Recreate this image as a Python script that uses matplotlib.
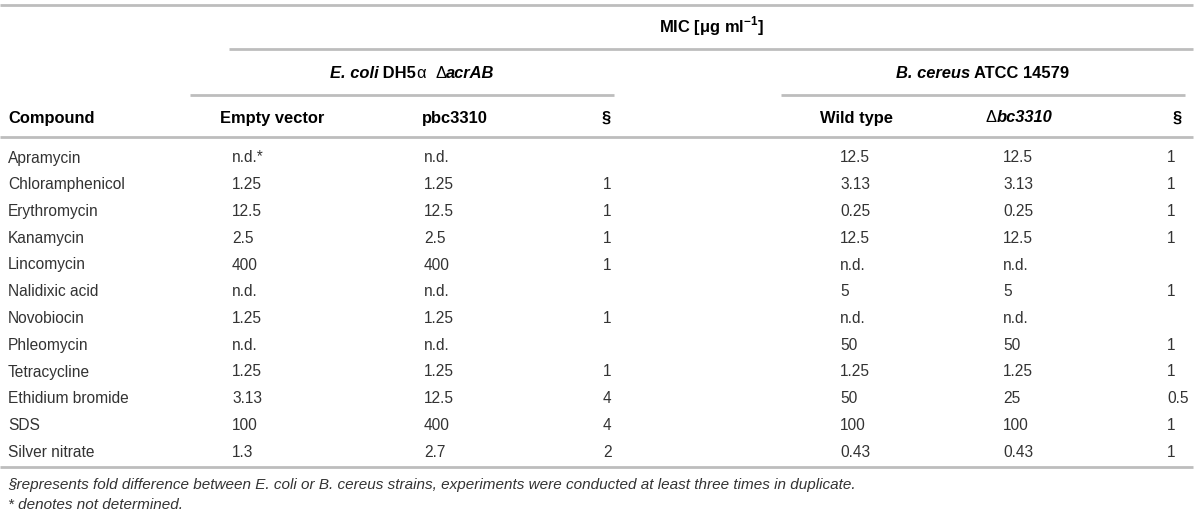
import matplotlib
matplotlib.use("Agg")
import matplotlib.pyplot as plt

# ---- data ----
compounds = ["Apramycin", "Chloramphenicol", "Erythromycin", "Kanamycin", "Lincomycin",
             "Nalidixic acid", "Novobiocin", "Phleomycin", "Tetracycline",
             "Ethidium bromide", "SDS", "Silver nitrate"]
ecoli_empty = ["n.d.*", "1.25", "12.5", "2.5", "400", "n.d.", "1.25", "n.d.", "1.25", "3.13", "100", "1.3"]
ecoli_pbc = ["n.d.", "1.25", "12.5", "2.5", "400", "n.d.", "1.25", "n.d.", "1.25", "12.5", "400", "2.7"]
ecoli_fold = ["", "1", "1", "1", "1", "", "1", "", "1", "4", "4", "2"]
bc_wt = ["12.5", "3.13", "0.25", "12.5", "n.d.", "5", "n.d.", "50", "1.25", "50", "100", "0.43"]
bc_del = ["12.5", "3.13", "0.25", "12.5", "n.d.", "5", "n.d.", "50", "1.25", "25", "100", "0.43"]
bc_fold = ["1", "1", "1", "1", "", "1", "", "1", "1", "0.5", "1", "1"]
footnotes = ["§represents fold difference between E. coli or B. cereus strains, experiments were conducted at least three times in duplicate.",
             "* denotes not determined."]

plt.rcParams['font.family'] = ['Liberation Sans', 'DejaVu Sans']
plt.rcParams['mathtext.fontset'] = 'custom'
plt.rcParams['mathtext.rm'] = 'Liberation Sans:bold'
plt.rcParams['mathtext.bf'] = 'Liberation Sans:bold'

W, H = 1200, 520
fig = plt.figure(figsize=(W / 100, H / 100), dpi=100)
ax = fig.add_axes([0, 0, 1, 1])
ax.set_xlim(0, W)
ax.set_ylim(H, 0)
ax.axis('off')

FS = 11.2
HFS = 11.9
BODY = '#333333'
RULE = '#bdbdbd'
renderer = fig.canvas.get_renderer()


def runs(xc, y, parts, size=HFS):
    """Draw consecutive text runs centred at xc. parts: (text, style, weight)."""
    objs = []
    for txt, style, weight in parts:
        t = ax.text(0, y, txt, fontsize=size, fontweight=weight, color='black',
                    fontstyle=style, va='center', ha='left')
        objs.append(t)
    widths = []
    inv = ax.transData.inverted()
    for t in objs:
        bb = t.get_window_extent(renderer)
        (x0, _), (x1, _) = inv.transform([(bb.x0, 0), (bb.x1, 0)])
        widths.append(x1 - x0)
    total = sum(widths)
    x = xc - total / 2
    for t, w in zip(objs, widths):
        t.set_x(x)
        x += w


# rules
ax.hlines(5, 0, 1193, color=RULE, lw=2)
ax.hlines(49, 229, 1193, color=RULE, lw=2)
ax.hlines(95, 190, 614, color=RULE, lw=2)
ax.hlines(95, 781, 1185, color=RULE, lw=2)
ax.hlines(137, 0, 1193, color=RULE, lw=2)
ax.hlines(467, 0, 1193, color=RULE, lw=2)

# group headers (centred on their rules)
ax.text(711, 26, r"MIC [μg ml$^{-1}$]", fontsize=HFS, fontweight='bold', ha='center', va='center')
runs(412, 73, [("E. coli", 'italic', 'bold'), (" DH5", 'normal', 'bold'), ("α", 'normal', 'normal'),
               ("  ", 'normal', 'bold'), ("Δ", 'normal', 'normal'), ("acrAB", 'italic', 'bold')])
runs(983, 73, [("B. cereus", 'italic', 'bold'), (" ATCC 14579", 'normal', 'bold')])

# column headers
hy = 118
ax.text(8, hy, "Compound", fontsize=HFS, fontweight='bold', ha='left', va='center')
ax.text(272, hy, "Empty vector", fontsize=HFS, fontweight='bold', ha='center', va='center')
ax.text(455, hy, "pbc3310", fontsize=HFS, fontweight='bold', ha='center', va='center')
ax.text(606, hy, "§", fontsize=HFS, fontweight='bold', ha='center', va='center')
ax.text(856, hy, "Wild type", fontsize=HFS, fontweight='bold', ha='center', va='center')
runs(1019, hy, [("Δ", 'normal', 'normal'), ("bc3310", 'italic', 'bold')])
ax.text(1177, hy, "§", fontsize=HFS, fontweight='bold', ha='center', va='center')

# body
cols = [(8, compounds), (232, ecoli_empty), (424, ecoli_pbc), (603, ecoli_fold),
        (840, bc_wt), (1003, bc_del), (1167, bc_fold)]
y0, dy = 158, 26.75
for i in range(len(compounds)):
    y = y0 + i * dy
    for x, col in cols:
        ax.text(x, y, col[i], fontsize=FS, color=BODY, ha='left', va='center')

# footnotes
ax.text(8, 485, footnotes[0], fontsize=11.0, color=BODY, style='italic', ha='left', va='center')
ax.text(8, 505, footnotes[1], fontsize=11.0, color=BODY, style='italic', ha='left', va='center')

fig.savefig("out.png", dpi=100)
